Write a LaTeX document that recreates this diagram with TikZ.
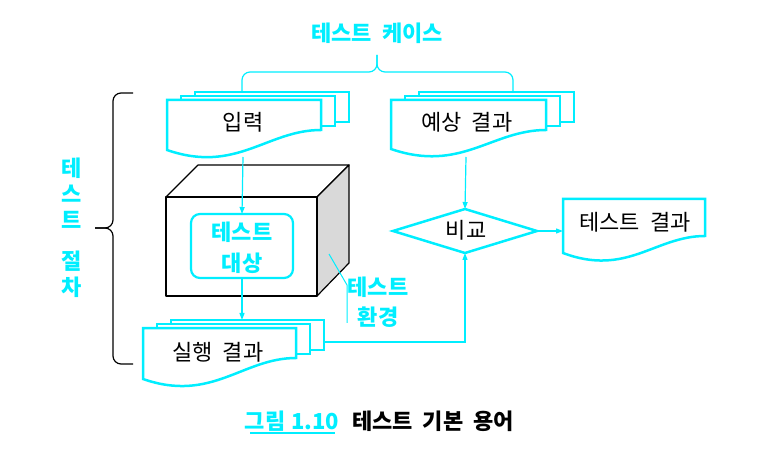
\documentclass[tikz,border=0pt]{standalone}
\usepackage{fontspec}
\setmainfont[WordSpace=2]{Noto Sans CJK KR}
\usetikzlibrary{arrows.meta}
\definecolor{cy}{RGB}{0,238,255}
\definecolor{boxgray}{RGB}{217,217,217}
\newcommand\docsheets[5]{%
  \draw[docline] ({#1+28},{#2-8}) rectangle ({#3+28},{#5-8});
  \draw[docline] ({#1+14},{#2-4}) rectangle ({#3+14},{#5-4});
  \docfront{#1}{#2}{#3}{#4}{#5}}
\newcommand\docfront[5]{%
  \draw[docline] (#1,#2) -- (#3,#2) -- (#3,#5)
    .. controls ({#1+0.65*(#3-#1)},#5) and ({#1+0.45*(#3-#1)},{#4+24}) .. (#1,#4) -- cycle;}
\begin{document}
\begin{tikzpicture}[x=1pt,y=-1pt,
  docline/.style={draw=cy,line width=2.5pt,fill=white,line join=miter},
  conn/.style={draw=cy,line width=1.2pt},
  arr/.style={conn,-{Triangle[length=7pt,width=5pt]}},
  lbl/.style={font=\fontsize{22}{26}\selectfont,text=black,inner sep=0pt},
  clbl/.style={font=\fontsize{22}{26}\selectfont\bfseries,text=cy,inner sep=0pt},
  blk/.style={draw=black,line width=1.2pt,line join=round}]
\useasboundingbox (0,0) rectangle (771,454);
% top brace (test case)
\node[clbl] (tc) at (377,33) {테스트 케이스};
\draw[conn,rounded corners=8pt] (242,92) -- (242,72) -- (377,72) -- (377,55);
\draw[conn,rounded corners=8pt] (513,92) -- (513,72) -- (377,72) -- (377,55);
% left brace (test procedure)
\draw[blk,rounded corners=8pt] (133,93) -- (113,93) -- (113,228) -- (95,228);
\draw[blk,rounded corners=8pt] (133,364) -- (113,364) -- (113,228) -- (95,228);
\node[clbl] (p1) at (72,168) {테};
\node[clbl] (p2) at (72,194) {스};
\node[clbl] (p3) at (72,220) {트};
\node[clbl] (p4) at (72,261) {절};
\node[clbl] (p5) at (72,287) {차};
% documents
\docsheets{167}{100}{321}{150}{130}
\node[lbl] (in) at (243,122) {입력};
\coordinate (inB) at (243,157);
\docsheets{391}{100}{546}{149}{130}
\node[lbl] (ex) at (467,122) {예상 결과};
\coordinate (exB) at (466,157);
% 3D box
\draw[blk,fill=white] (166,197) -- (198,165) -- (349,165) -- (317,197) -- cycle;
\draw[blk,fill=boxgray] (317,197) -- (349,165) -- (349,263) -- (317,296) -- cycle;
\draw[blk,fill=white] (166,197) rectangle (317,296);
\draw[draw=cy,line width=2.2pt,rounded corners=9pt] (191,214) rectangle (293,278);
\coordinate (toT) at (242,214);
\coordinate (toB) at (242,278);
\node[clbl] (to1) at (242,232) {테스트};
\node[clbl] (to2) at (242,263) {대상};
% test environment label
\node[clbl] (te1) at (378,287) {테스트};
\node[clbl] (te2) at (378,317) {환경};
\coordinate (teA) at (329,254);
\coordinate (teB) at (347,285);
\coordinate (teC) at (347,323);
\draw[conn,line width=1pt] (teA) -- (teB) -- (teC);
% execution result
\docsheets{143}{328}{296}{379}{358}
\node[lbl] (ru) at (218,352) {실행 결과};
\coordinate (ruT) at (242,320);
\coordinate (ruR) at (325,342);
% diamond
\draw[docline] (393,231) -- (465,209) -- (537,231) -- (465,253) -- cycle;
\node[lbl] (cmp) at (466,230) {비교};
\coordinate (dT) at (465,209);
\coordinate (dR) at (537,231);
\coordinate (dB) at (465,253);
% test result
\docfront{563}{199}{705}{253}{236}
\node[lbl] (tr) at (635,222) {테스트 결과};
\coordinate (trL) at (563,231);
% connectors
\draw[arr] (inB) -- (toT);
\draw[arr] (toB) -- (ruT);
\draw[arr] (exB) -- (dT);
\draw[arr] (dR) -- (trL);
\draw[arr] (ruR) -| (dB);
% caption
\node[clbl] (cap1) at (292,421) {그림\hspace{6pt}1.10};
\draw[cy,line width=1.2pt] (250,433) -- (335,433);
\node[lbl,font=\fontsize{22}{26}\selectfont\bfseries] (cap2) at (433,421) {테스트 기본 용어};
\end{tikzpicture}
\end{document}
